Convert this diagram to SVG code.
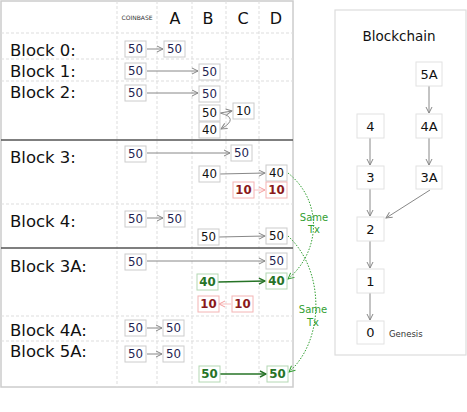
<svg xmlns="http://www.w3.org/2000/svg" width="467" height="412" viewBox="0 0 467 412">
<style>
text{font-family:"DejaVu Sans","Liberation Sans",sans-serif;}
.lbl{font-size:16.5px;fill:#111;}
.hdr{font-size:16px;fill:#111;text-anchor:middle;}
.cb{font-size:6px;fill:#333;text-anchor:middle;}
.dash{stroke:#ddd;stroke-width:1;stroke-dasharray:3,2;fill:none;}
.sep{stroke:#555;stroke-width:1.5;}
.v rect{fill:#fff;stroke:#ccc;stroke-width:1;}
.v text{font-size:11.8px;text-anchor:middle;}
.n text{fill:#1e1e50;}
.k text{fill:#111;}
.r rect{stroke:#f4b4b4;}
.r text{fill:#8b1a1a;font-weight:bold;}
.g rect{stroke:#b4d8b4;}
.g text{fill:#267326;font-weight:bold;}
.ar{stroke:#888;stroke-width:1;fill:none;marker-end:url(#ga);}
.arr{stroke:#f8c0c0;stroke-width:1;fill:none;marker-end:url(#pa);}
.arg{stroke:#267326;stroke-width:1.6;fill:none;marker-end:url(#gr);}
.dot{stroke:#33a033;stroke-width:1;stroke-dasharray:1.5,1.5;fill:none;marker-end:url(#da);}
.same{font-size:10px;fill:#33a033;text-anchor:middle;}
.bn rect{fill:#fff;stroke:#e2e2e2;stroke-width:1;}
.bn text{font-size:13px;fill:#111;text-anchor:middle;}
</style>
<defs>
<marker id="ga" viewBox="0 0 8 8" refX="7" refY="4" markerWidth="8" markerHeight="8" markerUnits="userSpaceOnUse" orient="auto"><path d="M1,1 L7,4 L1,7" fill="none" stroke="#888" stroke-width="1"/></marker>
<marker id="pa" viewBox="0 0 8 8" refX="7" refY="4" markerWidth="8" markerHeight="8" markerUnits="userSpaceOnUse" orient="auto"><path d="M1,1 L7,4 L1,7" fill="none" stroke="#f4a0a0" stroke-width="1"/></marker>
<marker id="gr" viewBox="0 0 8 8" refX="7" refY="4" markerWidth="8" markerHeight="8" markerUnits="userSpaceOnUse" orient="auto"><path d="M1,1 L7,4 L1,7" fill="none" stroke="#267326" stroke-width="1.4"/></marker>
<marker id="da" viewBox="0 0 8 8" refX="7" refY="4" markerWidth="8" markerHeight="8" markerUnits="userSpaceOnUse" orient="auto"><path d="M1,1 L7,4 L1,7" fill="none" stroke="#33a033" stroke-width="1"/></marker>
</defs>

<g id="table">
<rect x="1" y="1" width="292" height="386" fill="#fff" stroke="#ccc" stroke-width="1.5"/>
<path class="dash" d="M117,1V387 M157,1V387 M192,1V387 M226,1V387 M259,1V387 M1,33H293 M1,59H293 M1,81H293 M1,204H293 M1,316H293 M1,341H293"/>
<line class="sep" x1="1" y1="140" x2="293" y2="140"/>
<line class="sep" x1="1" y1="248" x2="293" y2="248"/>
<text class="cb" x="137" y="20">COINBASE</text>
<text class="hdr" x="175" y="24">A</text>
<text class="hdr" x="208" y="24">B</text>
<text class="hdr" x="243" y="24">C</text>
<text class="hdr" x="276" y="24">D</text>
<text class="lbl" x="10" y="56">Block 0:</text>
<text class="lbl" x="10" y="77">Block 1:</text>
<text class="lbl" x="10" y="98">Block 2:</text>
<text class="lbl" x="10" y="163">Block 3:</text>
<text class="lbl" x="10" y="227">Block 4:</text>
<text class="lbl" x="10" y="272">Block 3A:</text>
<text class="lbl" x="10" y="336">Block 4A:</text>
<text class="lbl" x="10" y="357">Block 5A:</text>
</g>

<g id="blockchain">
<rect x="335" y="10" width="131" height="345" fill="#fff" stroke="#ddd" stroke-width="1.2"/>
<text x="399" y="41" font-size="13.5" fill="#111" text-anchor="middle">Blockchain</text>
</g>

<g id="connectors">
<path class="ar" d="M147,49H163"/>
<path class="ar" d="M147,71H198"/>
<path class="ar" d="M147,93H198"/>
<path class="ar" d="M220,113L232,111"/>
<path class="ar" d="M220,113Q240,118 221,129"/>
<path class="ar" d="M147,153H230"/>
<path class="ar" d="M220,174L265,173"/>
<path class="arr" d="M254,190H265"/>
<path class="ar" d="M147,218H163"/>
<path class="ar" d="M219,237L265,236"/>
<path class="ar" d="M147,261H265"/>
<path class="arg" d="M218,282L265,281"/>
<path class="arr" d="M231,304H219"/>
<path class="ar" d="M147,328H162"/>
<path class="ar" d="M147,354H162"/>
<path class="arg" d="M220,374H266"/>
<path class="dot" d="M288,173C322,200 322,250 288,279"/>
<path class="dot" d="M288,236C325,270 325,340 289,372"/>
<path class="ar" d="M429,86V113"/>
<path class="ar" d="M429,138V165"/>
<path class="ar" d="M370,138V165"/>
<path class="ar" d="M370,189V216"/>
<path class="ar" d="M430,190L386,218"/>
<path class="ar" d="M370,241V268"/>
<path class="ar" d="M370,293V320"/>
</g>
<text class="same" x="314" y="221">Same</text>
<text class="same" x="314" y="233">Tx</text>
<text class="same" x="313" y="313">Same</text>
<text class="same" x="313" y="326">Tx</text>

<g id="b0-cb" class="v n"><rect x="125" y="41" width="21" height="16"/><text x="135.5" y="53.2">50</text></g>
<g id="b0-a" class="v n"><rect x="164" y="41" width="21" height="16"/><text x="174.5" y="53.2">50</text></g>
<g id="b1-cb" class="v n"><rect x="125" y="63" width="21" height="16"/><text x="135.5" y="75.2">50</text></g>
<g id="b1-b" class="v n"><rect x="199" y="64" width="21" height="16"/><text x="209.5" y="76.2">50</text></g>
<g id="b2-cb" class="v n"><rect x="125" y="85" width="21" height="16"/><text x="135.5" y="97.2">50</text></g>
<g id="b2-b" class="v n"><rect x="199" y="86" width="21" height="16"/><text x="209.5" y="98.2">50</text></g>
<g id="b2-b2" class="v k"><rect x="199" y="105" width="21" height="16"/><text x="209.5" y="117.2">50</text></g>
<g id="b2-c" class="v k"><rect x="233" y="103" width="21" height="16"/><text x="243.5" y="115.2">10</text></g>
<g id="b2-b3" class="v k"><rect x="199" y="122" width="21" height="16"/><text x="209.5" y="134.2">40</text></g>
<g id="b3-cb" class="v n"><rect x="125" y="146" width="21" height="16"/><text x="135.5" y="158.2">50</text></g>
<g id="b3-c" class="v n"><rect x="231" y="145" width="21" height="16"/><text x="241.5" y="157.2">50</text></g>
<g id="b3-b" class="v k"><rect x="199" y="166" width="21" height="16"/><text x="209.5" y="178.2">40</text></g>
<g id="b3-d" class="v k"><rect x="266" y="165" width="21" height="16"/><text x="276.5" y="177.2">40</text></g>
<g id="b3-c2" class="v r"><rect x="233" y="182" width="21" height="16"/><text x="243.5" y="194.2">10</text></g>
<g id="b3-d2" class="v r"><rect x="266" y="182" width="21" height="16"/><text x="276.5" y="194.2">10</text></g>
<g id="b4-cb" class="v n"><rect x="125" y="211" width="21" height="16"/><text x="135.5" y="223.2">50</text></g>
<g id="b4-a" class="v n"><rect x="164" y="211" width="21" height="16"/><text x="174.5" y="223.2">50</text></g>
<g id="b4-b" class="v k"><rect x="198" y="229" width="21" height="16"/><text x="208.5" y="241.2">50</text></g>
<g id="b4-d" class="v k"><rect x="266" y="228" width="21" height="16"/><text x="276.5" y="240.2">50</text></g>
<g id="b3a-cb" class="v n"><rect x="125" y="254" width="21" height="16"/><text x="135.5" y="266.2">50</text></g>
<g id="b3a-d" class="v n"><rect x="266" y="253" width="21" height="16"/><text x="276.5" y="265.2">50</text></g>
<g id="b3a-b" class="v g"><rect x="197" y="274" width="21" height="16"/><text x="207.5" y="286.2">40</text></g>
<g id="b3a-d2" class="v g"><rect x="266" y="273" width="21" height="16"/><text x="276.5" y="285.2">40</text></g>
<g id="b3a-b2" class="v r"><rect x="198" y="296" width="21" height="16"/><text x="208.5" y="308.2">10</text></g>
<g id="b3a-c" class="v r"><rect x="232" y="296" width="21" height="16"/><text x="242.5" y="308.2">10</text></g>
<g id="b4a-cb" class="v n"><rect x="125" y="320" width="21" height="16"/><text x="135.5" y="332.2">50</text></g>
<g id="b4a-a" class="v n"><rect x="163" y="320" width="21" height="16"/><text x="173.5" y="332.2">50</text></g>
<g id="b5a-cb" class="v n"><rect x="125" y="346" width="21" height="16"/><text x="135.5" y="358.2">50</text></g>
<g id="b5a-a" class="v n"><rect x="163" y="346" width="21" height="16"/><text x="173.5" y="358.2">50</text></g>
<g id="b5a-b" class="v g"><rect x="199" y="366" width="21" height="16"/><text x="209.5" y="378.2">50</text></g>
<g id="b5a-d" class="v g"><rect x="267" y="366" width="21" height="16"/><text x="277.5" y="378.2">50</text></g>

<g id="n5A" class="bn"><rect x="416" y="62" width="26" height="24"/><text x="429" y="79">5A</text></g>
<g id="n4" class="bn"><rect x="357" y="114" width="27" height="24"/><text x="370.5" y="131">4</text></g>
<g id="n4A" class="bn"><rect x="416" y="114" width="26" height="24"/><text x="429" y="131">4A</text></g>
<g id="n3" class="bn"><rect x="357" y="166" width="27" height="23"/><text x="370.5" y="182">3</text></g>
<g id="n3A" class="bn"><rect x="416" y="166" width="26" height="23"/><text x="429" y="182">3A</text></g>
<g id="n2" class="bn"><rect x="357" y="217" width="27" height="24"/><text x="370.5" y="234">2</text></g>
<g id="n1" class="bn"><rect x="357" y="269" width="27" height="24"/><text x="370.5" y="286">1</text></g>
<g id="n0" class="bn"><rect x="357" y="321" width="27" height="23"/><text x="370.5" y="337">0</text></g>
<text x="389" y="337" font-size="8.5" fill="#333">Genesis</text>
</svg>
